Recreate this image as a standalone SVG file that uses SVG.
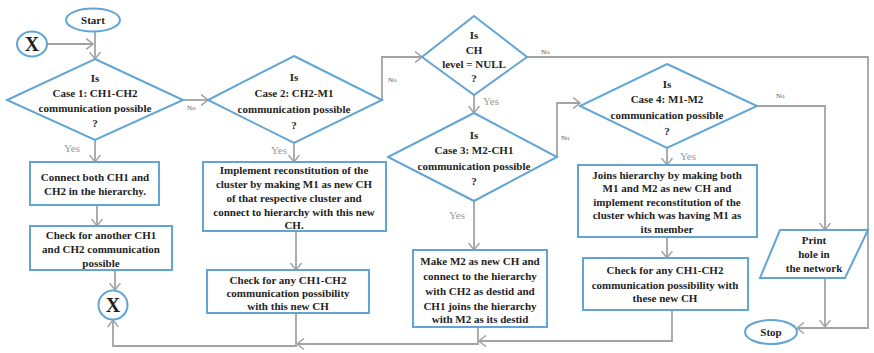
<svg xmlns="http://www.w3.org/2000/svg" width="874" height="353" viewBox="0 0 874 353">
  <style>
    .shape { fill: #ffffff; stroke: #62a5d4; stroke-width: 2; }
    .t { font-family: "Liberation Serif", "Times New Roman", serif; font-weight: bold; font-size: 11px; fill: #1e1e1e; text-anchor: middle; }
    .x { font-family: "Liberation Serif", "Times New Roman", serif; font-weight: bold; font-size: 20px; fill: #1e1e1e; text-anchor: middle; }
    .lab { font-family: "Liberation Serif", "Times New Roman", serif; font-size: 7px; fill: #555555; }
    .yes { font-family: "Liberation Serif", "Times New Roman", serif; font-size: 11px; fill: #9a9a9a; }
    .conn path { fill: none; stroke: #a3a3a3; stroke-width: 1.8; }
  </style>
  <defs>
    <marker id="arr" viewBox="0 0 8 12" refX="7.5" refY="6" markerWidth="8" markerHeight="12" markerUnits="userSpaceOnUse" orient="auto">
      <path d="M0.5,0.5 L7.5,6 L0.5,11.5" fill="none" stroke="#a3a3a3" stroke-width="1.5"/>
    </marker>
  </defs>
  <rect width="874" height="353" fill="#ffffff"/>

  <!-- connectors -->
  <g class="conn">
    <path d="M47,44 H93" marker-end="url(#arr)"/>
    <path d="M95,32 V59" marker-end="url(#arr)"/>
    <path d="M95,140 V162" marker-end="url(#arr)"/>
    <path d="M97,205 V226" marker-end="url(#arr)"/>
    <path d="M115,270 V290" marker-end="url(#arr)"/>
    <path d="M183,100 H208" marker-end="url(#arr)"/>
    <path d="M294,143 V162" marker-end="url(#arr)"/>
    <path d="M296,231 V270" marker-end="url(#arr)"/>
    <path d="M296,313 V346 H113 V320" marker-end="url(#arr)"/>
    <path d="M382,100 V57 H422" marker-end="url(#arr)"/>
    <path d="M474,95 V113" marker-end="url(#arr)"/>
    <path d="M527,57 H868 V328 H797" marker-end="url(#arr)"/>
    <path d="M474,201 V250" marker-end="url(#arr)"/>
    <path d="M478,327 V344 H297" marker-end="url(#arr)"/>
    <path d="M557,157 V103 H580" marker-end="url(#arr)"/>
    <path d="M667,148 V165" marker-end="url(#arr)"/>
    <path d="M667,237 V258" marker-end="url(#arr)"/>
    <path d="M672,310 V341 H479" marker-end="url(#arr)"/>
    <path d="M757,106 H825 V230" marker-end="url(#arr)"/>
    <path d="M825,278 V327" marker-end="url(#arr)"/>
    <text class="yes" x="64" y="152">Yes</text>
    <text class="lab" x="187" y="110">No</text>
    <text class="yes" x="271" y="154">Yes</text>
    <text class="lab" x="388" y="82">No</text>
    <text class="yes" x="483" y="105">Yes</text>
    <text class="lab" x="541" y="54">No</text>
    <text class="yes" x="449" y="219">Yes</text>
    <text class="lab" x="561" y="140">No</text>
    <text class="yes" x="680" y="160">Yes</text>
    <text class="lab" x="776" y="98">No</text>
  </g>

  <g id="start">
    <ellipse class="shape" cx="93" cy="20" rx="27" ry="11.5"/>
    <text class="t" x="93" y="24">Start</text>
  </g>

  <g id="connector-in">
    <ellipse class="shape" cx="32" cy="44" rx="15" ry="12.5"/>
    <text class="x" x="32" y="51">X</text>
  </g>

  <g id="case1">
    <polygon class="shape" points="95,59 183,100 95,140 7,100"/>
    <text class="t" x="95" y="82">Is</text>
    <text class="t" x="95" y="97">Case 1: CH1-CH2</text>
    <text class="t" x="95" y="112">communication possible</text>
    <text class="t" x="95" y="127">?</text>
  </g>

  <g id="connect-ch1-ch2">
    <rect class="shape" x="30" y="162" width="129" height="43"/>
    <text class="t" x="95" y="181">Connect both CH1 and</text>
    <text class="t" x="95" y="195">CH2 in the hierarchy.</text>
  </g>

  <g id="check-another">
    <rect class="shape" x="30" y="226" width="142" height="44"/>
    <text class="t" x="101" y="239">Check for another CH1</text>
    <text class="t" x="101" y="253">and CH2 communication</text>
    <text class="t" x="101" y="267">possible</text>
  </g>

  <g id="connector-out">
    <circle class="shape" cx="113" cy="305" r="14.5"/>
    <text class="x" x="113" y="312">X</text>
  </g>

  <g id="case2">
    <polygon class="shape" points="294,56 382,100 294,143 208,100"/>
    <text class="t" x="294" y="81">Is</text>
    <text class="t" x="294" y="97">Case 2: CH2-M1</text>
    <text class="t" x="294" y="113">communication possible</text>
    <text class="t" x="294" y="129">?</text>
  </g>

  <g id="reconstitute-m1">
    <rect class="shape" x="203" y="162" width="183" height="69"/>
    <text class="t" x="294" y="174">Implement reconstitution of the</text>
    <text class="t" x="294" y="188">cluster by making M1 as new CH</text>
    <text class="t" x="294" y="202">of that respective cluster and</text>
    <text class="t" x="294" y="216">connect to hierarchy with this new</text>
    <text class="t" x="294" y="229">CH.</text>
  </g>

  <g id="check-new-ch">
    <rect class="shape" x="207" y="270" width="162" height="43"/>
    <text class="t" x="288" y="284">Check for any CH1-CH2</text>
    <text class="t" x="288" y="297">communication possibility</text>
    <text class="t" x="288" y="310">with this new CH</text>
  </g>

  <g id="ch-level-null">
    <polygon class="shape" points="474,16 527,57 474,95 422,57"/>
    <text class="t" x="474" y="39">Is</text>
    <text class="t" x="474" y="54">CH</text>
    <text class="t" x="474" y="68">level = NULL</text>
    <text class="t" x="474" y="82">?</text>
  </g>

  <g id="case3">
    <polygon class="shape" points="474,113 557,157 474,201 388,157"/>
    <text class="t" x="474" y="139">Is</text>
    <text class="t" x="474" y="154">Case 3: M2-CH1</text>
    <text class="t" x="474" y="170">communication possible</text>
    <text class="t" x="474" y="185">?</text>
  </g>

  <g id="make-m2-ch">
    <rect class="shape" x="413" y="250" width="134" height="77"/>
    <text class="t" x="480" y="265">Make M2 as new CH and</text>
    <text class="t" x="480" y="280">connect to the hierarchy</text>
    <text class="t" x="480" y="295">with CH2 as destid and</text>
    <text class="t" x="480" y="310">CH1 joins the hierarchy</text>
    <text class="t" x="480" y="323">with M2 as its destid</text>
  </g>

  <g id="case4">
    <polygon class="shape" points="667,64 757,106 667,148 580,106"/>
    <text class="t" x="667" y="88">Is</text>
    <text class="t" x="667" y="103">Case 4: M1-M2</text>
    <text class="t" x="667" y="119">communication possible</text>
    <text class="t" x="667" y="135">?</text>
  </g>

  <g id="join-m1-m2">
    <rect class="shape" x="578" y="165" width="179" height="72"/>
    <text class="t" x="667" y="179">Joins hierarchy by making both</text>
    <text class="t" x="667" y="192">M1 and M2 as new CH and</text>
    <text class="t" x="667" y="206">implement reconstitution of the</text>
    <text class="t" x="667" y="219">cluster which was having M1 as</text>
    <text class="t" x="667" y="233">its member</text>
  </g>

  <g id="check-these-new-ch">
    <rect class="shape" x="583" y="258" width="165" height="52"/>
    <text class="t" x="665" y="274">Check for any CH1-CH2</text>
    <text class="t" x="665" y="289">communication possibility with</text>
    <text class="t" x="665" y="302">these new CH</text>
  </g>

  <g id="print-hole">
    <polygon class="shape" points="780,230 868,230 845,278 760,278"/>
    <text class="t" x="814" y="244">Print</text>
    <text class="t" x="814" y="258">hole in</text>
    <text class="t" x="814" y="272">the network</text>
  </g>

  <g id="stop">
    <ellipse class="shape" cx="771" cy="332" rx="26" ry="12"/>
    <text class="t" x="771" y="336">Stop</text>
  </g>
</svg>
